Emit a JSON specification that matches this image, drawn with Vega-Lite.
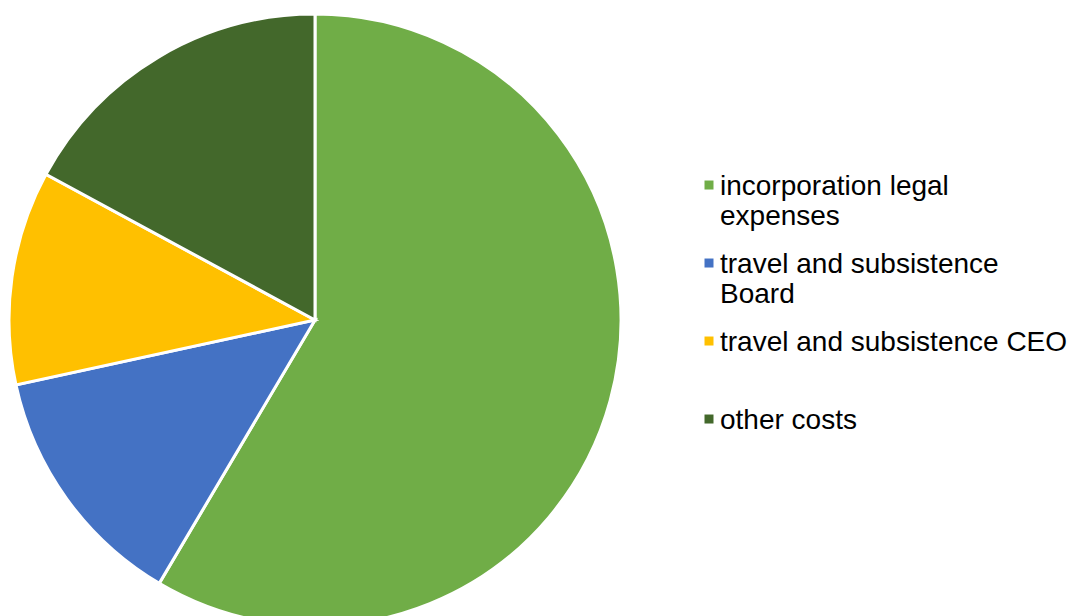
{
  "$schema": "https://vega.github.io/schema/vega-lite/v6.json",
  "width": 630,
  "height": 640,
  "padding": {"left": 0, "top": 0, "right": 442, "bottom": 0},
  "autosize": {"type": "none"},
  "background": "white",
  "data": {
    "values": [
      {"category": "incorporation legal expenses", "value": 58.5, "order": 1},
      {"category": "travel and subsistence Board", "value": 13.1, "order": 2},
      {"category": "travel and subsistence CEO", "value": 11.3, "order": 3},
      {"category": "other costs", "value": 17.1, "order": 4}
    ]
  },
  "mark": {"type": "arc", "outerRadius": 306, "stroke": "white", "strokeWidth": 3},
  "encoding": {
    "theta": {"field": "value", "type": "quantitative", "stack": true},
    "order": {"field": "order", "type": "quantitative"},
    "color": {
      "field": "category",
      "type": "nominal",
      "sort": null,
      "scale": {
        "domain": ["incorporation legal expenses", "travel and subsistence Board", "travel and subsistence CEO", "other costs"],
        "range": ["#70AD47", "#4472C4", "#FFC000", "#43682B"]
      },
      "legend": {
        "title": null,
        "orient": "none",
        "legendX": 695,
        "legendY": 159,
        "symbolType": "M-1,1.67H1V3.67H-1Z",
        "symbolSize": 81,
        "symbolStrokeWidth": 0,
        "labelFont": "Liberation Sans",
        "labelFontSize": 28,
        "labelLineHeight": 32,
        "labelColor": "#000000",
        "labelLimit": 600,
        "labelOffset": -3,
        "labelBaseline": "top",
        "labelExpr": "datum.label == 'incorporation legal expenses' ? ['incorporation legal', 'expenses'] : datum.label == 'travel and subsistence Board' ? ['travel and subsistence', 'Board'] : datum.label == 'travel and subsistence CEO' ? ['travel and subsistence CEO', ' '] : datum.label",
        "rowPadding": 6
      }
    }
  }
}
